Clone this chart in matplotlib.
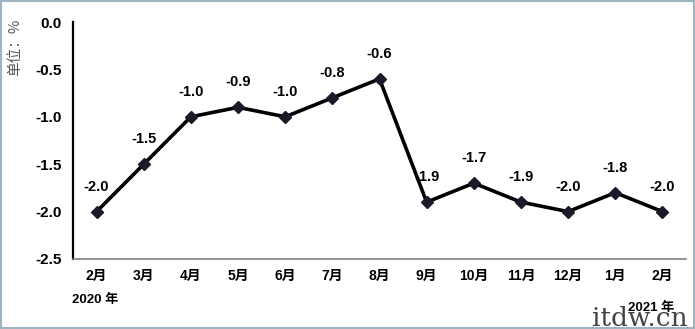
import matplotlib
matplotlib.use("Agg")
import matplotlib.pyplot as plt
from matplotlib.patches import Rectangle

months = ["2月", "3月", "4月", "5月", "6月", "7月", "8月", "9月", "10月", "11月", "12月", "1月", "2月"]
values = [-2.0, -1.5, -1.0, -0.9, -1.0, -0.8, -0.6, -1.9, -1.7, -1.9, -2.0, -1.8, -2.0]
yticks = [0.0, -0.5, -1.0, -1.5, -2.0, -2.5]

plt.rcParams['font.family'] = ['Liberation Sans', 'Noto Sans CJK SC', 'DejaVu Sans']

fig = plt.figure(figsize=(6.95, 3.29), dpi=100)
ax = fig.add_axes([73/695, 1-259/329, 613/695, 237/329])

x = list(range(len(months)))
ax.plot(x, values, color='black', lw=2.6, marker='D', markersize=6.5,
        markerfacecolor='#1a1a2a', markeredgecolor='#1a1a2a', zorder=3)
for xi, v in zip(x, values):
    ax.annotate(f"{v:.1f}", (xi, v), xytext=(0, 13), textcoords='offset points',
                ha='center', va='bottom', fontsize=10.5, fontweight='bold', zorder=5)

ax.set_xlim(-0.5, len(months)-0.5)
ax.set_ylim(-2.5, 0.0)
ax.set_yticks(yticks)
ax.set_yticklabels([f"{t:.1f}" for t in yticks], fontsize=11, fontweight='bold')
ax.set_xticks(x)
ax.set_xticklabels(months, fontsize=10, fontweight='bold')
ax.tick_params(axis='both', length=0)
ax.tick_params(axis='y', pad=8)
ax.tick_params(axis='x', pad=7)
for s in ['top', 'right']:
    ax.spines[s].set_visible(False)
ax.spines['left'].set_color('black')
ax.spines['left'].set_linewidth(1.6)
ax.spines['bottom'].set_color('#808080')
ax.spines['bottom'].set_linewidth(1.2)

fig.text(15/695, 1-47/329, "单位：%", rotation=90, ha='center', va='center',
         fontsize=10.5, color='#555555', family=['Noto Sans CJK SC'])
fig.text(72/695, 1-300/329, "2020 年", ha='left', va='center', fontsize=9.5, fontweight='bold')
fig.text(628/695, 1-308/329, "2021 年", ha='left', va='center', fontsize=9.5, fontweight='bold')
fig.text(592/695, 1-318/329, "itdw.cn", ha='left', va='center', fontsize=19,
         color='#222222', family=['DejaVu Serif'], alpha=0.85)

fig.patches.append(Rectangle((0.002, 0.004), 0.996, 0.992, transform=fig.transFigure,
                             fill=False, edgecolor='#9fb3c0', lw=1.5))

fig.savefig("out.png", dpi=100)
